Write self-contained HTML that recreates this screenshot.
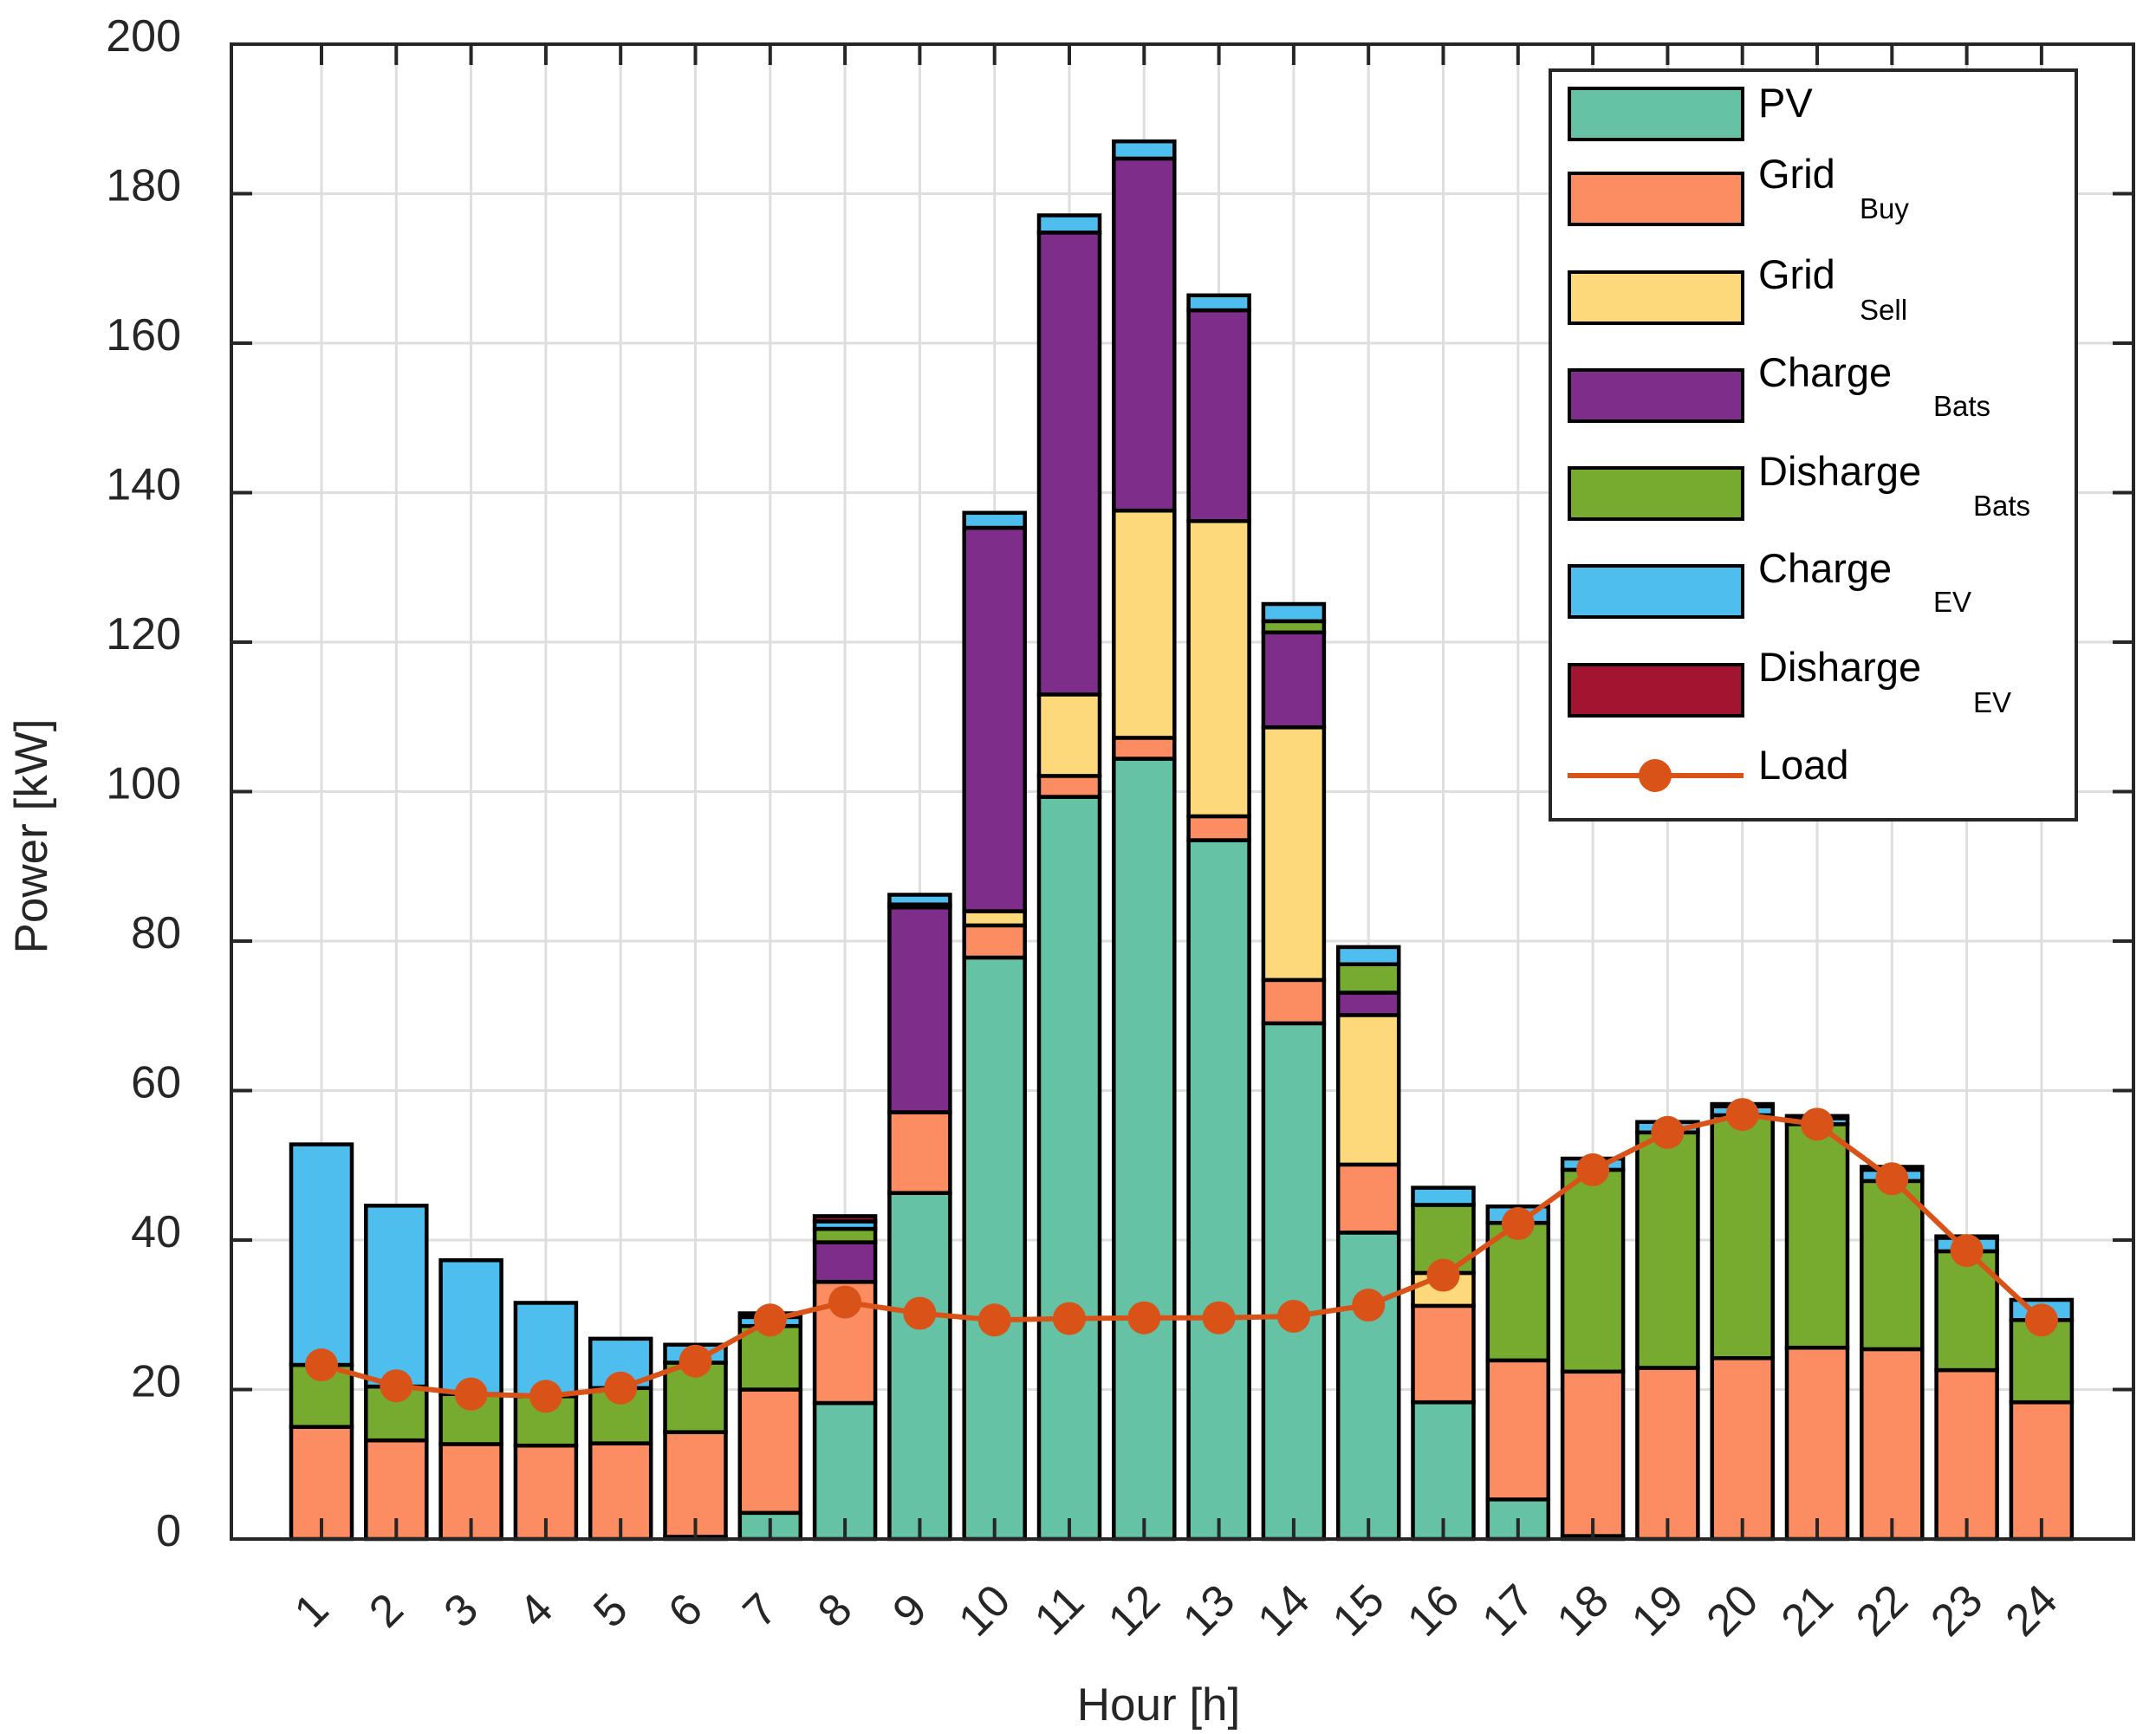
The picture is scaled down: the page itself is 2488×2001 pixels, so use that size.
<!DOCTYPE html>
<html><head><meta charset="utf-8"><style>
html,body{margin:0;padding:0;background:#fff;}
svg{display:block;font-family:"Liberation Sans",Arial,sans-serif;}
</style></head><body>
<svg id="chart" width="2488" height="2001" viewBox="0 0 2488 2001" xmlns="http://www.w3.org/2000/svg">
<rect x="0" y="0" width="2488" height="2001" fill="#fff"/>
<g id="grid"></g>
<g id="bars"></g>
<g id="loadline"></g>
<g id="axes"></g>
<g id="legend"></g>
<text x="0" y="0" transform="translate(54,965) rotate(-90)" text-anchor="middle" font-size="53" fill="#262626">Power [kW]</text>
<text x="1337" y="1985" text-anchor="middle" font-size="53" fill="#262626">Hour [h]</text>
</svg>
<script>
const hours = [1,2,3,4,5,6,7,8,9,10,11,12,13,14,15,16,17,18,19,20,21,22,23,24];
const pv        = [0,0,0,0,0,0.3,3.5,18.2,46.3,77.8,99.3,104.4,93.5,69,41,18.3,5.3,0.4,0,0,0,0,0,0];
const gridBuy   = [15,13.2,12.7,12.5,12.8,14,16.5,16.2,10.8,4.3,2.8,2.8,3.2,5.8,9.1,12.9,18.6,22,22.9,24.2,25.6,25.4,22.6,18.3];
const gridSell  = [0,0,0,0,0,0,0,0,0,1.9,10.9,30.4,39.5,33.8,20,4.4,0,0,0,0,0,0,0,0];
const chargeBats= [0,0,0,0,0,0,0,5.3,27.4,51.3,61.8,47.1,28.2,12.7,3,0,0,0,0,0,0,0,0,0];
const disBats   = [8.3,7.2,6.7,6.6,7.4,9.3,8.5,1.8,0.4,0,0,0,0,1.5,3.8,9.1,18.4,27,31.5,32.5,29.9,22.5,15.9,11];
const chargeEV  = [29.5,24.2,17.9,12.5,6.6,2.4,1.2,1,1.3,2,2.3,2.3,2,2.3,2.3,2.3,2.2,1.5,1.4,1.2,0.8,1.5,1.8,2.7];
const disEV     = [0,0,0,0,0,0,0.5,0.7,0,0,0,0,0,0,0,0,0,0,0,0.3,0.3,0.4,0.2,0];
const load      = [23.3,20.5,19.4,19.1,20.2,23.8,29.3,31.7,30.2,29.3,29.5,29.6,29.6,29.8,31.3,35.3,42.2,49.4,54.4,56.8,55.5,48.2,38.6,29.3];
const yTicks = [0,20,40,60,80,100,120,140,160,180,200];
const seriesNames = ["PV","Grid Buy","Grid Sell","Charge Bats","Disharge Bats","Charge EV","Disharge EV"];

const NS="http://www.w3.org/2000/svg";
const L=267,R=2462,T=51,B=1776;
const X0=371,DX=86.3,BW=70;
function xs(h){return X0+(h-1)*DX;}
function ys(v){return B-(v/200)*(B-T);}
function mk(tag,attrs,parent){const e=document.createElementNS(NS,tag);for(const k in attrs)e.setAttribute(k,attrs[k]);parent.appendChild(e);return e;}
const series=[pv,gridBuy,gridSell,chargeBats,disBats,chargeEV,disEV];
const colors=["#66c2a5","#fc8d62","#fed97b","#7e2d8b","#77ab30","#4dbeee","#a2142f"];
const keys=["pv","grid-buy","grid-sell","charge-bats","discharge-bats","charge-ev","discharge-ev"];

const grid=document.getElementById('grid');
hours.forEach(h=>{const l=mk('line',{x1:xs(h),x2:xs(h),y1:T,y2:B,stroke:'#dedede','stroke-width':3},grid);

});
yTicks.forEach(v=>{const l=mk('line',{x1:L,x2:R,y1:ys(v),y2:ys(v),stroke:'#dedede','stroke-width':3},grid);

});

const bars=document.getElementById('bars');
hours.forEach((h,i)=>{
  let base=0;
  series.forEach((s,k)=>{
    const v=s[i]; if(v<=0) return;
    const y1=ys(base+v),y0=ys(base);
    const r=mk('rect',{x:xs(h)-BW/2,y:y1,width:BW,height:y0-y1,fill:colors[k],stroke:'#000','stroke-width':4.5},bars);
    
    
    base+=v;
  });
});

const ll=document.getElementById('loadline');
const pts=hours.map((h,i)=>xs(h)+','+ys(load[i])).join(' ');
const pl=mk('polyline',{points:pts,fill:'none',stroke:'#d95319','stroke-width':6},ll);


hours.forEach((h,i)=>{const c=mk('circle',{cx:xs(h),cy:ys(load[i]),r:19,fill:'#d95319'},ll);

});

const ax=document.getElementById('axes');
const frame=mk('rect',{x:L,y:T,width:R-L,height:B-T,fill:'none',stroke:'#262626','stroke-width':4},ax);


yTicks.forEach(v=>{
  mk('line',{x1:L,x2:L+24,y1:ys(v),y2:ys(v),stroke:'#262626','stroke-width':4},ax);
  mk('line',{x1:R,x2:R-24,y1:ys(v),y2:ys(v),stroke:'#262626','stroke-width':4},ax);
  const t=mk('text',{x:209,y:ys(v)+8,'text-anchor':'end','font-size':52,fill:'#262626'},ax);
  t.textContent=v;
  
  
});
hours.forEach(h=>{
  mk('line',{x1:xs(h),x2:xs(h),y1:B,y2:B-24,stroke:'#262626','stroke-width':4},ax);
  mk('line',{x1:xs(h),x2:xs(h),y1:T,y2:T+24,stroke:'#262626','stroke-width':4},ax);
  const cx=xs(h)-12,cy=1858;
  const t=mk('text',{x:cx,y:cy+18,'text-anchor':'middle','font-size':52,fill:'#262626',transform:'rotate(-45 '+cx+' '+cy+')'},ax);
  t.textContent=h;
  
  
});

const lg=document.getElementById('legend');
const box=mk('rect',{x:1789,y:81,width:607,height:865,fill:'#fff',stroke:'#262626','stroke-width':4},lg);


const rowY=[102,200,314,427,540,653,767];
const mainT=[["PV",135],["Grid",217],["Grid",333],["Charge",446],["Disharge",560],["Charge",672],["Disharge",786]];
const subT=[null,["Buy",2146,252],["Sell",2146,369],["Bats",2231,480],["Bats",2277,595],["EV",2231,706],["EV",2277,822]];
rowY.forEach((y,k)=>{
  const g=mk('g',{},lg);
  
  
  mk('rect',{x:1811,y:y,width:200,height:59,fill:colors[k],stroke:'#000','stroke-width':4},g);
  const t=mk('text',{x:2029,y:mainT[k][1],'font-size':47,fill:'#000'},g);
  t.textContent=mainT[k][0];
  if(subT[k]){const s=mk('text',{x:subT[k][1],y:subT[k][2],'font-size':33,fill:'#000'},g);s.textContent=subT[k][0];}
});
const lgL=mk('g',{},lg);


mk('line',{x1:1809,x2:2012,y1:895,y2:895,stroke:'#d95319','stroke-width':6},lgL);
mk('circle',{cx:1910,cy:895,r:19,fill:'#d95319'},lgL);
const lt=mk('text',{x:2029,y:899,'font-size':47,fill:'#000'},lgL);lt.textContent="Load";
</script>
</body></html>
